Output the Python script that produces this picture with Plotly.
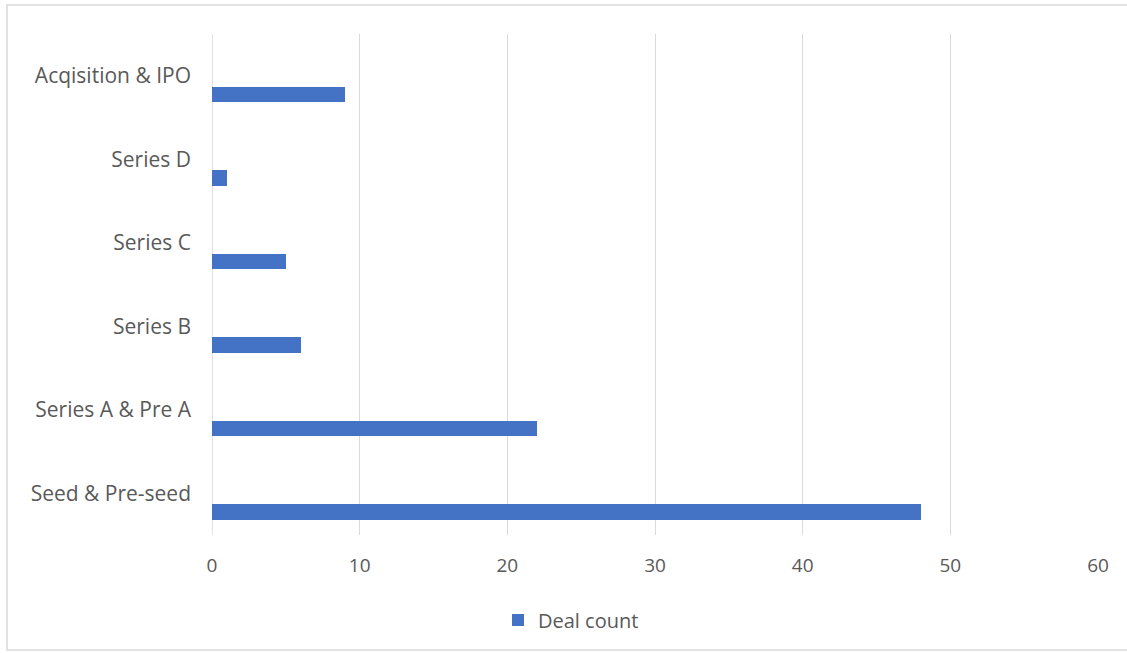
import plotly.graph_objects as go

categories = ["Seed & Pre-seed", "Series A & Pre A", "Series B", "Series C", "Series D", "Acqisition & IPO"]
deal_count = [48, 22, 6, 5, 1, 9]
x_ticks = [0, 10, 20, 30, 40, 50, 60]

W, H = 1127, 653
L, R, T, B = 212, 29, 34, 118
pw = W - L - R
ph = H - T - B

fig = go.Figure()
fig.add_trace(go.Bar(
    y=categories, x=deal_count, orientation="h", name="Deal count",
    marker=dict(color="#4472C4", line=dict(width=0)),
    width=0.19, offset=-0.32,
))

fam = "Open Sans, Noto Sans, sans-serif"
col = "#595959"

fig.update_layout(
    width=W, height=H,
    margin=dict(l=L, r=R, t=T, b=B, pad=0),
    paper_bgcolor="white", plot_bgcolor="white",
    font=dict(family=fam, size=19, color=col),
    showlegend=True,
    legend=dict(orientation="h", x=(498 - L) / pw, xanchor="left",
                y=-(620 - (T + ph)) / ph, yanchor="middle",
                font=dict(family=fam, size=20, color=col), itemwidth=30,
                bgcolor="rgba(0,0,0,0)"),
    xaxis=dict(range=[0, 60], tickvals=x_ticks, showgrid=True, gridcolor="#d9d9d9",
               gridwidth=1, zeroline=False, showline=False, ticks="",
               ticklabelstandoff=17, tickfont=dict(family=fam, size=19, color=col)),
    yaxis=dict(type="category", categoryorder="array", categoryarray=categories,
               range=[-0.5, 5.5], showgrid=False, zeroline=False, showline=False,
               ticks="", ticklabelstandoff=20, tickfont=dict(family=fam, size=21, color=col)),
    bargap=0,
)

# vertical gridline at x = 0
fig.add_shape(type="line", xref="x", yref="paper", x0=0, x1=0, y0=0, y1=1,
              line=dict(color="#d9d9d9", width=1.5), layer="below")

fig.add_shape(type="rect", xref="paper", yref="paper",
              x0=(7 - L) / pw, x1=(1135 - L) / pw,
              y0=-(650 - (T + ph)) / ph, y1=1 + (T - 5) / ph,
              line=dict(color="#d9d9d9", width=1.5), layer="below")

fig.write_html("out.html")
